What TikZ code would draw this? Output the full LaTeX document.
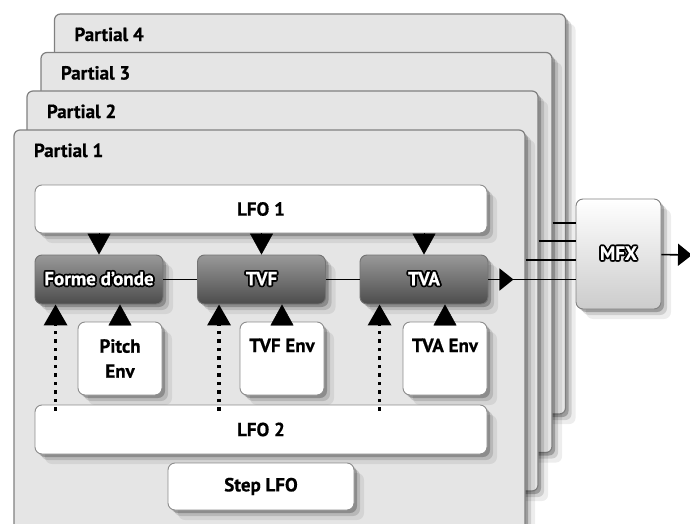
\documentclass[tikz,border=0pt]{standalone}
\usepackage{fontspec}
\setmainfont{PT Sans}[BoldFeatures={FakeBold=0.6}]
\usepackage{contour}
\contourlength{1.8pt}
\contournumber{10}
\usetikzlibrary{arrows.meta}
\usetikzlibrary{shadows}

\begin{document}
\begin{tikzpicture}[x=1pt,y=-1pt,
    font=\bfseries\fontsize{19}{25}\selectfont,
    tri/.style={-{Triangle[length=21pt,width=23pt]}},
    trih/.style={-{Triangle[length=14pt,width=22pt]}},
    soft/.style={drop shadow={shadow xshift=3pt,shadow yshift=-3pt,fill=black,opacity=.24},
      drop shadow={shadow xshift=6pt,shadow yshift=-6pt,fill=black,opacity=.13},
      drop shadow={shadow xshift=10pt,shadow yshift=-10pt,fill=black,opacity=.07}},
    panel/.style={draw=black!50,line width=1.2pt,fill=black!10,rounded corners=6pt,
      minimum width=511pt,minimum height=400pt,soft},
    whitebox/.style={draw=black!45,line width=.9pt,fill=white,rounded corners=7pt,soft},
    lfobox/.style={whitebox,minimum width=452pt,minimum height=48pt},
    envbox/.style={whitebox,minimum width=84pt,minimum height=73pt,align=center},
    envtop/.style={envbox,inner ysep=0pt,text height=30pt,text depth=43pt},
    modbox/.style={draw=black!55,line width=.9pt,top color=black!40,bottom color=black!70,
      rounded corners=7pt,minimum width=128pt,minimum height=49pt,text=white,soft},
    mfxbox/.style={draw=black!50,line width=.9pt,top color=white,bottom color=black!20,
      rounded corners=7pt,minimum width=85pt,minimum height=110pt,text=white,soft},
    wire/.style={line width=1.6pt},
    dots/.style={line width=3.5pt,dash pattern=on 3.5pt off 5pt,shorten <=-6pt}]
  \useasboundingbox (0,0) rectangle (690,524);
  \clip (0,0) rectangle (690,524);
  \fill[white] (0,0) rectangle (690,524);

  \foreach \i/\cx/\cy in {4/310/214,3/296.5/252.5,2/282.5/291,1/269.5/330}{
    \node[panel] (partial\i) at (\cx,\cy) {};
    \node[anchor=west] (plabel\i) at ([xshift=17pt,yshift=-21pt]partial\i.north west) {Partial \i};
  }

  \node[lfobox] (lfoone) at (261,209) {LFO 1};
  \node[modbox] (forme) at (99,279.5) {\contour{black}{Forme d’onde}};
  \node[modbox] (tvf) at (261.5,279.5) {\contour{black}{TVF}};
  \node[modbox] (tva) at (424,279.5) {\contour{black}{TVA}};
  \node[envbox] (pitchenv) at (120,358.5) {Pitch\\Env};
  \node[envtop] (tvfenv) at (282,358.5) {TVF Env};
  \node[envtop] (tvaenv) at (445,358.5) {TVA Env};
  \node[lfobox,minimum height=49pt] (lfotwo) at (261,429.5) {LFO 2};
  \node[whitebox,minimum width=186pt,minimum height=47pt] (steplfo) at (261,486.5) {Step LFO};
  \node[mfxbox] (mfx) at (618.5,254) {\contour{black}{MFX}};

  \coordinate (tvaout) at ([xshift=25pt]tva.east);
  \coordinate (out) at (692,255);
  \coordinate (fdot) at ([xshift=21pt]forme.south west);
  \coordinate (tvfdot) at ([xshift=22pt]tvf.south west);
  \coordinate (tvadot) at ([xshift=20pt]tva.south west);

  \draw[wire] (forme) -- (tvf);
  \draw[wire] (tvf) -- (tva);
  \draw[wire,trih] (tva) -- (tvaout);
  \draw[wire] (tvaout) -- (mfx.west |- tvaout);
  \draw[wire] (partial1.east |- 0,260) -- (mfx.west |- 0,260);
  \draw[wire] (partial2.east |- 0,241) -- (mfx.west |- 0,241);
  \draw[wire] (partial3.east |- 0,223) -- (mfx.west |- 0,223);
  \draw[wire,trih] (mfx) -- (out);

  \foreach \m in {forme,tvf,tva}
    \draw[tri] (\m |- lfoone.south) -- (\m.north);
  \draw[tri] (pitchenv.north) -- (pitchenv.north |- forme.south);
  \draw[tri] (tvfenv.north) -- (tvfenv.north |- tvf.south);
  \draw[tri] (tvaenv.north) -- (tvaenv.north |- tva.south);
  \draw[dots,tri] (fdot |- lfotwo.north) -- (fdot);
  \draw[dots,tri] (tvfdot |- lfotwo.north) -- (tvfdot);
  \draw[dots,tri] (tvadot |- lfotwo.north) -- (tvadot);
\end{tikzpicture}
\end{document}
